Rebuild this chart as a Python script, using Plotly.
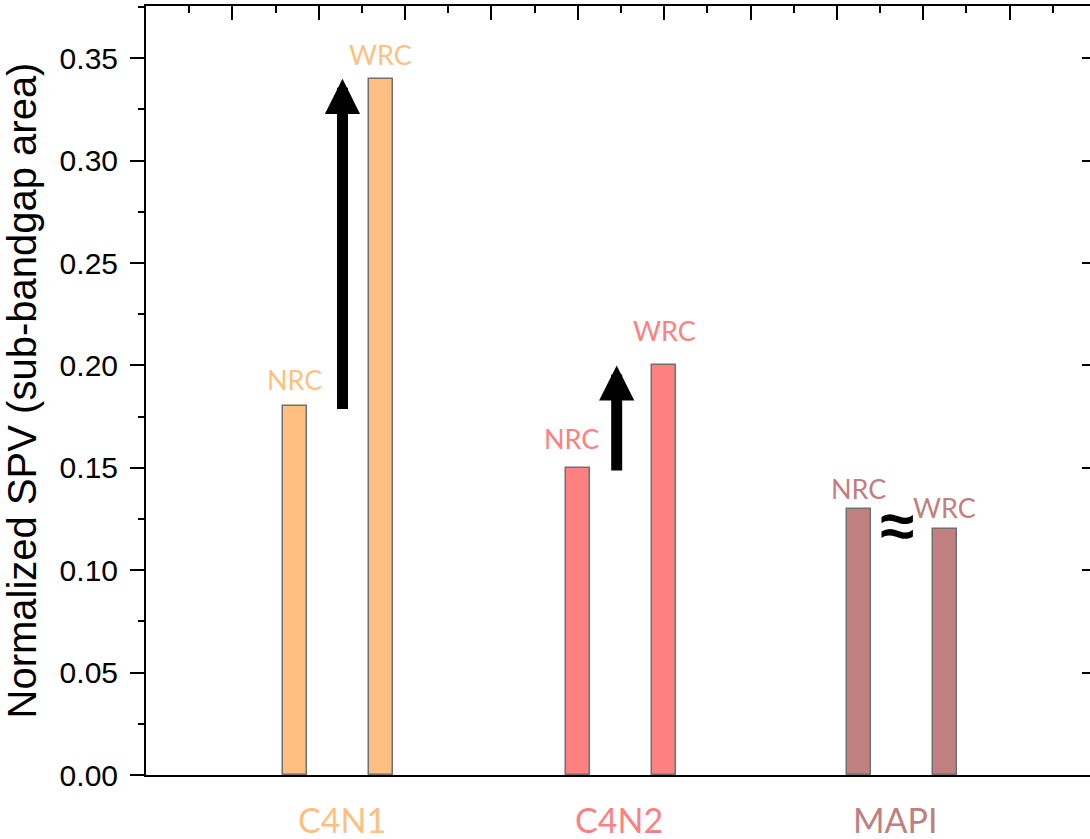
import plotly.graph_objects as go

# ---- data ----
groups = ["C4N1", "C4N2", "MAPI"]
group_pos = [2.22, 5.50, 8.75]
conditions = ["NRC", "WRC"]
nrc_vals = [0.18, 0.15, 0.13]
wrc_vals = [0.34, 0.20, 0.12]
colors = ["#FFBF80", "#FF8080", "#C08080"]
y_ticks = [0.00, 0.05, 0.10, 0.15, 0.20, 0.25, 0.30, 0.35]
y_title = "Normalized SPV (sub-bandgap area)"

# ---- styling ----
Y_MAX = 0.3755
X_MAX = 10.93
half_sep = 0.5
bar_w = 0.278
axis_font = "Liberation Sans, Arial, sans-serif"
label_font = "Lato, Carlito, Calibri, sans-serif"
label_gap = [[14, 12], [17, 22], [8, 9]]
label_dx = [[0, 0], [-6, 0], [0, 0]]
cat_dx = [4, -2, -6]
arrow_dx = [0.055, -0.05]

fig = go.Figure()

for i, g in enumerate(groups):
    xs = [group_pos[i] - half_sep, group_pos[i] + half_sep]
    ys = [nrc_vals[i], wrc_vals[i]]
    fig.add_trace(go.Bar(
        x=xs, y=ys, width=bar_w,
        marker=dict(color=colors[i], line=dict(color="#707070", width=1.5)),
        showlegend=False, name=g,
    ))
    for j, c in enumerate(conditions):
        fig.add_annotation(
            x=xs[j], y=ys[j], xref="x", yref="y", text=c, showarrow=False,
            yanchor="bottom", xanchor="center", yshift=label_gap[i][j] - 6,
            xshift=label_dx[i][j],
            font=dict(family=label_font, size=27, color=colors[i]),
        )
    # category label below axis
    fig.add_annotation(
        x=group_pos[i], y=-0.058, xref="x", yref="paper", text=g,
        showarrow=False, yanchor="middle", xanchor="center", xshift=cat_dx[i],
        font=dict(family=label_font, size=34, color=colors[i]),
    )

# arrows showing the change NRC -> WRC
for i in range(2):
    xa = group_pos[i] + arrow_dx[i]
    fig.add_annotation(
        x=xa, y=wrc_vals[i], ax=xa, ay=nrc_vals[i] - 0.002,
        xref="x", yref="y", axref="x", ayref="y", text="",
        showarrow=True, arrowhead=2, arrowwidth=11, arrowsize=0.64,
        arrowcolor="black",
    )

# approx-equal sign for MAPI
fig.add_annotation(
    x=group_pos[2] - 0.06, y=(nrc_vals[2] + wrc_vals[2]) / 2, xref="x", yref="y",
    text="<b>≈</b>", showarrow=False, xanchor="center", yanchor="middle",
    yshift=-6,
    font=dict(family=axis_font, size=62, color="black"),
)

# helper trace so the top / right tick axes are drawn
fig.add_trace(go.Scatter(x=[None], y=[None], xaxis="x2", yaxis="y2",
                         showlegend=False, hoverinfo="skip"))

fig.update_layout(
    width=1090, height=839,
    margin=dict(l=146, r=0, t=6, b=64),
    paper_bgcolor="white", plot_bgcolor="white",
    bargap=0,
    xaxis=dict(
        range=[0, X_MAX], showgrid=False, zeroline=False,
        showline=True, linecolor="black", linewidth=2,
        ticks="", showticklabels=False,
    ),
    xaxis2=dict(
        range=[0, X_MAX], overlaying="x", side="top", anchor="y2",
        showgrid=False, zeroline=False, showline=True, linecolor="black",
        linewidth=2, ticks="inside", ticklen=14, tickwidth=2,
        tickcolor="black", dtick=1, tick0=0, showticklabels=False,
        minor=dict(ticks="inside", ticklen=7, tickwidth=2, dtick=0.5,
                   tick0=0, tickcolor="black", showgrid=False),
    ),
    yaxis=dict(
        range=[0, Y_MAX], showgrid=False, zeroline=False,
        showline=True, linecolor="black", linewidth=2,
        ticks="outside", ticklen=14, tickwidth=2, tickcolor="black",
        tickvals=y_ticks, tickformat=".2f",
        tickfont=dict(family=axis_font, size=30, color="black"),
        ticklabelstandoff=6,
        minor=dict(ticks="outside", ticklen=6, tickwidth=2, dtick=0.025,
                   tick0=0, tickcolor="black", showgrid=False),
        title=dict(text=y_title, standoff=12,
                   font=dict(family=axis_font, size=40, color="black")),
    ),
    yaxis2=dict(
        range=[0, Y_MAX], overlaying="y", side="right", anchor="x2",
        showgrid=False, zeroline=False, showline=False,
        ticks="inside", ticklen=8, tickwidth=2, tickcolor="black",
        tickvals=y_ticks, showticklabels=False,
    ),
)

fig.write_html("out.html")
